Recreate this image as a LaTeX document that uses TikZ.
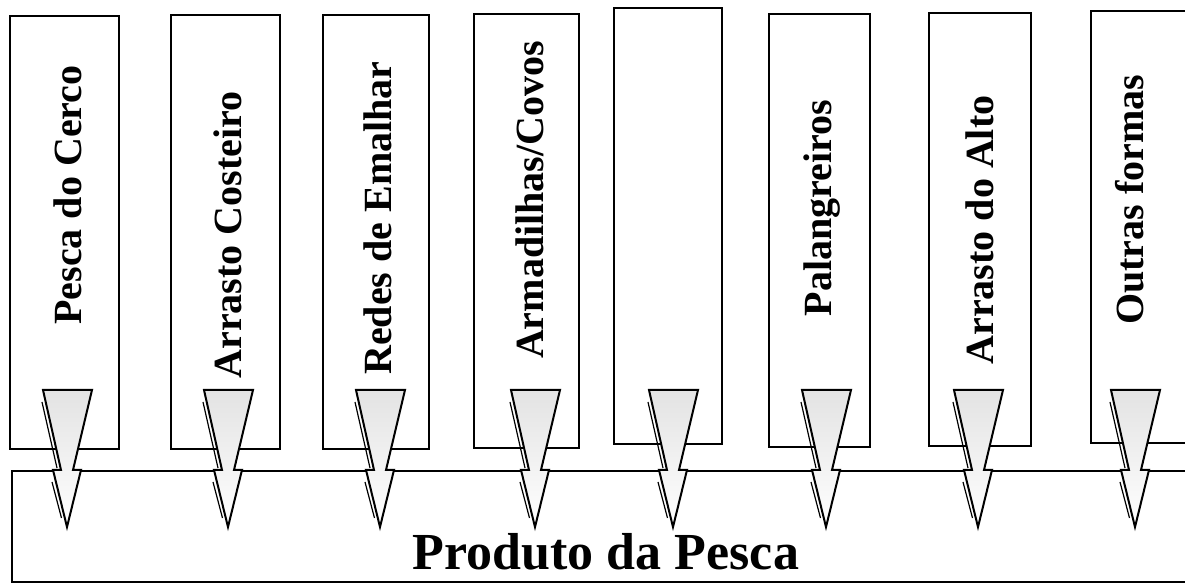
\documentclass[tikz,border=0pt]{standalone}
\usepackage{fontspec}
\setmainfont{Liberation Serif}
\usetikzlibrary{fit}

\tikzset{
  caixa/.style={draw, line width=1.1pt, inner sep=0pt},
  arte/.style={font=\bfseries\fontsize{20}{24}\selectfont, rotate=90},
  seta/.style={line width=1pt, top color=gray!22, bottom color=white},
}

\begin{document}
\begin{tikzpicture}[x=0.5pt, y=-0.5pt]
    \useasboundingbox (0,0) rectangle (1185,587);
    \clip (0,0) rectangle (1185,587);
    % produto final
    \node[caixa, fit={(12,471) (1200,582)}] (produto) {};
    \node[font=\bfseries\fontsize{26}{31}\selectfont, anchor=base] (titulo) at (606,570) {Produto da Pesca};
    % artes de pesca
    \foreach \i/\l/\r/\t/\b in {1/10/119/16/449, 2/171/280/15/449, 3/323/429/15/449, 4/474/579/14/448,
                                5/614/722/8/444, 6/769/870/14/447, 7/929/1031/13/446, 8/1091/1200/11/443}
        \node[caixa, fit={(\l,\t) (\r,\b)}] (arte\i) {};
    \foreach \i/\x/\y/\txt in {1/68/195/Pesca do Cerco, 2/228/235/Arrasto Costeiro, 3/378/218/Redes de Emalhar,
                               4/530/200/{Armadilhas/Covos}, 6/822/208/Palangreiros, 7/980/230/Arrasto do Alto,
                               8/1130/200/Outras formas}
        \node[arte] (nome\i) at (\x,\y) {\txt};
    % setas
    \foreach \i/\x in {1/67, 2/228, 3/380, 4/535, 5/673, 6/826, 7/978, 8/1135} {
        \coordinate (s\i) at (\x,390);
        \draw[seta, shift={(s\i)}] (-24,0) -- (25,0) -- (6,80) -- (14,80) -- (0,137) -- (-14,80) -- (-6,80) -- cycle;
        \draw[line width=0.6pt, shift={(s\i)}] (-25,12) -- (-10,78) (-15,92) -- (-5.5,128);
    }
\end{tikzpicture}
\end{document}
